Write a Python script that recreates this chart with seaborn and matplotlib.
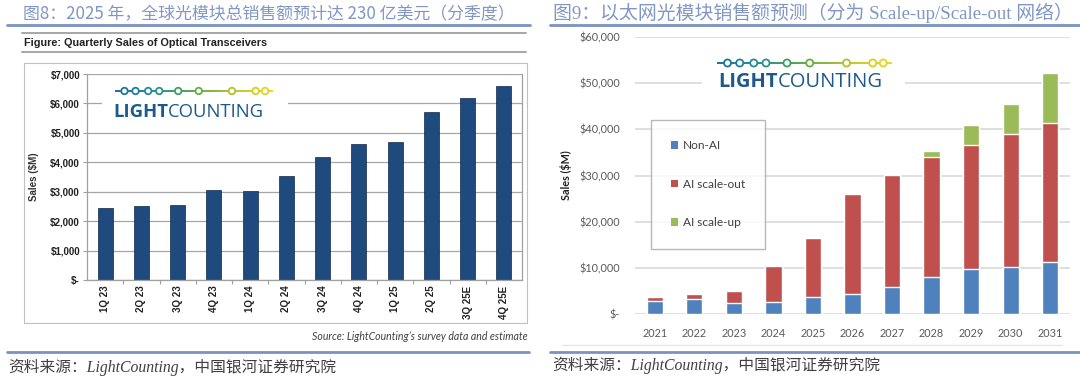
import numpy as np
import pandas as pd
import matplotlib
matplotlib.use("Agg")
import matplotlib.pyplot as plt
import seaborn as sns
from matplotlib.lines import Line2D
from matplotlib.patches import Rectangle, Patch
from matplotlib.collections import LineCollection
from matplotlib.colors import LinearSegmentedColormap

# -------------------------------
# data
# -------------------------------
quarters = ["1Q 23", "2Q 23", "3Q 23", "4Q 23", "1Q 24", "2Q 24",
            "3Q 24", "4Q 24", "1Q 25", "2Q 25", "3Q 25E", "4Q 25E"]
quarterly_sales = [2430, 2510, 2550, 3050, 3020, 3550,
                   4190, 4630, 4680, 5710, 6190, 6600]

years = ["2021", "2022", "2023", "2024", "2025", "2026",
         "2027", "2028", "2029", "2030", "2031"]
non_ai = [2900, 3180, 2310, 2680, 3600, 4400, 5860, 7950, 9690, 10270, 11350]
ai_scale_out = [860, 1160, 2750, 7620, 12850, 21650, 24340, 26110, 26910, 28780, 30080]
ai_scale_up = [0, 0, 0, 100, 80, 80, 200, 1140, 4250, 6500, 10700]

title_left = "图8：2025 年，全球光模块总销售额预计达 230 亿美元（分季度）"
title_right = "图9：以太网光模块销售额预测（分为 Scale-up/Scale-out 网络）"
caption = "资料来源：LightCounting，中国银河证券研究院"

# -------------------------------
# setup
# -------------------------------
sns.set_style("white")
plt.rcParams['font.family'] = ['Liberation Sans', 'Noto Sans CJK SC', 'DejaVu Sans']

W, H = 1080, 382
fig = plt.figure(figsize=(W / 100, H / 100), dpi=100)
fig.patch.set_facecolor("white")


def px_axes(x0, y0, x1, y1):
    return fig.add_axes([x0 / W, 1 - y1 / H, (x1 - x0) / W, (y1 - y0) / H])


def hline(x0, x1, y, color, lw):
    fig.add_artist(Line2D([x0 / W, x1 / W], [1 - y / H, 1 - y / H],
                          color=color, lw=lw, transform=fig.transFigure))


def ftext(x, y, s, **kw):
    fig.text(x / W, 1 - y / H, s, **kw)


logo_cmap = LinearSegmentedColormap.from_list(
    "lc", ["#1c6e9e", "#1f8a9c", "#3f9f63", "#7fb43a", "#c9c824", "#ecd61c"])
logo_dots = [0.06, 0.13, 0.21, 0.28, 0.40, 0.53, 0.74, 0.89, 0.95]


def draw_logo(box, line_x, line_y, split_x, base_y, fs, dot_s):
    x0, y0, x1, y1 = box
    lax = px_axes(x0, y0, x1, y1)
    lax.set_xlim(x0, x1)
    lax.set_ylim(y1, y0)
    lax.set_facecolor("white")
    for sp in lax.spines.values():
        sp.set_visible(False)
    lax.set_xticks([])
    lax.set_yticks([])
    xs = np.linspace(line_x[0], line_x[1], 60)
    segs = [[(xs[i], line_y), (xs[i + 1], line_y)] for i in range(len(xs) - 1)]
    lc = LineCollection(segs, cmap=logo_cmap, lw=1.4)
    lc.set_array(np.linspace(0, 1, len(segs)))
    lax.add_collection(lc)
    dx = [line_x[0] + f * (line_x[1] - line_x[0]) for f in logo_dots]
    lax.scatter(dx, [line_y] * len(dx), s=dot_s, facecolor="white",
                edgecolor=[logo_cmap(f) for f in logo_dots], lw=1.3, zorder=3)
    lax.text(split_x, base_y, "LIGHT", ha="right", va="baseline", fontsize=fs,
             fontweight="bold", color="#1d5a8c", family="Open Sans")
    lax.text(split_x, base_y, "COUNTING", ha="left", va="baseline", fontsize=fs,
             color="#1d5a8c", family="Open Sans")
    return lax


# -------------------------------
# left panel: quarterly sales
# -------------------------------
title_color = "#8097c6"
ftext(23, 14, title_left, fontsize=12.2, color=title_color, va="center",
      family=["Noto Sans CJK SC", "DejaVu Sans"])
hline(7, 530, 24.5, "#7a92c2", 2)
hline(22, 526, 33, "#a6a6a6", 1.4)
ftext(24, 43, "Figure: Quarterly Sales of Optical Transceivers", fontsize=7.8,
      fontweight="bold", color="#222222", va="center")
hline(22, 526, 52, "#a6a6a6", 1.4)
fig.add_artist(Rectangle((24 / W, 1 - 323 / H), (527 - 24) / W, (323 - 63) / H,
                         transform=fig.transFigure, fill=False,
                         edgecolor="#c0c0c0", lw=0.8))

axl = px_axes(87, 74, 522, 280)
df_q = pd.DataFrame({"quarter": quarters, "sales": quarterly_sales})
sns.barplot(data=df_q, x="quarter", y="sales", color="#1f4a7e", saturation=1,
            width=0.42, edgecolor="#10294a", linewidth=0.5, ax=axl)
axl.set_xlim(-0.5, len(quarters) - 0.5)
axl.set_ylim(0, 7000)
axl.set_yticks(range(0, 7001, 1000))
axl.set_yticklabels(["$-"] + [f"${v:,}" for v in range(1000, 7001, 1000)])
axl.yaxis.grid(True, color="#a6a6a6", lw=0.9)
axl.set_axisbelow(True)
axl.set_xlabel("")
axl.set_ylabel("Sales ($M)", fontsize=7, fontweight="bold", color="#333333",
               labelpad=8)
for sp in ["left", "bottom", "right"]:
    axl.spines[sp].set_color("#a0a0a0")
    axl.spines[sp].set_linewidth(0.9)
axl.spines["top"].set_visible(False)
axl.tick_params(axis="y", which="major", left=True, length=3, width=0.8,
                color="#a0a0a0", labelsize=7, labelcolor="#222222", pad=2)
axl.set_xticks(np.arange(0.5, len(quarters) - 0.5), minor=True)
axl.tick_params(axis="x", which="minor", bottom=True, length=3, width=0.8,
                color="#a0a0a0")
axl.tick_params(axis="x", which="major", length=0, labelsize=7,
                labelcolor="#222222", rotation=90, pad=4)
for lab in axl.get_yticklabels() + axl.get_xticklabels():
    lab.set_fontweight("bold")

draw_logo((102, 83, 288, 121), (115, 273), 91, 168, 117, 13.3, 22)

ftext(528, 336, "Source: LightCounting\u2019s survey data and estimate",
      fontsize=7.6, style="italic", color="#404040", ha="right", va="center",
      family="Lato")
hline(7, 529, 352, "#7a92c2", 2)
ftext(8, 367, caption, fontsize=11.3, color="#404040", va="center",
      style="italic", family=["Liberation Serif", "Noto Sans CJK SC"])

# -------------------------------
# right panel: ethernet transceiver forecast
# -------------------------------
ftext(553, 13, title_right, fontsize=13.6, color=title_color, va="center",
      family=["Liberation Serif", "Noto Sans CJK SC"])
hline(550, 1080, 24.5, "#7a92c2", 2)

axr = px_axes(635, 37, 1070, 314)
df_y = pd.DataFrame({"year": years, "non_ai": non_ai,
                     "scale_out": ai_scale_out, "scale_up": ai_scale_up})
df_y["top_red"] = df_y["non_ai"] + df_y["scale_out"]
df_y["total"] = df_y["top_red"] + df_y["scale_up"]

c_blue, c_red, c_green = "#4f81bd", "#c0504d", "#9bbb59"
sns.barplot(data=df_y, x="year", y="total", color=c_green, saturation=1,
            width=0.41, ax=axr)
sns.barplot(data=df_y, x="year", y="top_red", color=c_red, saturation=1,
            width=0.41, ax=axr)
sns.barplot(data=df_y, x="year", y="non_ai", color=c_blue, saturation=1,
            width=0.41, ax=axr)
axr.set_xlim(-0.5, len(years) - 0.5)
axr.set_ylim(0, 60000)
axr.set_yticks(range(0, 60001, 10000))
axr.set_yticklabels(["$-"] + [f"${v:,}" for v in range(10000, 60001, 10000)])
axr.yaxis.grid(True, color="#d9d9d9", lw=1.2)
axr.set_axisbelow(True)
for sp in axr.spines.values():
    sp.set_visible(False)
axr.tick_params(axis="both", length=0, labelsize=7.8, labelcolor="#595959")
axr.tick_params(axis="y", pad=11)
axr.tick_params(axis="x", pad=10)
for lab in axr.get_yticklabels() + axr.get_xticklabels():
    lab.set_family("Lato")
axr.set_xlabel("")
axr.set_ylabel("Sales ($M)", fontsize=7.8, fontweight="bold", color="#222222",
               family="Lato", labelpad=5)

handles = [Patch(facecolor=c, edgecolor="none") for c in (c_blue, c_red, c_green)]
leg = axr.legend(handles, ["Non-AI", "AI scale-out", "AI scale-up"],
                 loc="upper left", bbox_to_anchor=(651 / W, 1 - 120 / H),
                 bbox_transform=fig.transFigure, borderaxespad=0,
                 prop={"family": "Lato", "size": 8.6},
                 frameon=True, fancybox=False, edgecolor="#a6a6a6",
                 borderpad=1.7, labelspacing=2.3, handlelength=0.55,
                 handleheight=0.55, handletextpad=0.4)
leg.get_frame().set_linewidth(1.0)
for t in leg.get_texts():
    t.set_color("#404040")

draw_logo((702, 48, 905, 96), (717, 892), 63, 778, 87, 14.5, 26)

hline(562, 1062, 345, "#e6e6e6", 1)
hline(550, 1080, 352, "#7a92c2", 2)
ftext(552, 365, caption, fontsize=11.3, color="#404040", va="center",
      style="italic", family=["Liberation Serif", "Noto Sans CJK SC"])

fig.savefig("out.png", dpi=100, facecolor="white")
